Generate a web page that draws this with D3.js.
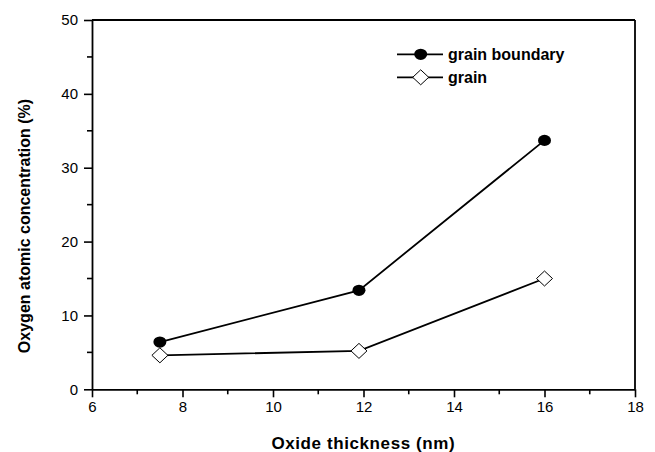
<!DOCTYPE html>
<html>
<head>
<meta charset="utf-8">
<script src="https://cdn.jsdelivr.net/npm/d3@7"></script>
<style>
html,body{margin:0;padding:0;background:#fff;}
svg{display:block;font-family:"Liberation Sans",Arial,sans-serif;}
</style>
</head>
<body>
<svg id="chart" width="655" height="452"></svg>
<script>
const thickness = [7.5, 11.9, 16];
const grainBoundary = [6.4, 13.4, 33.7];
const grain = [4.6, 5.2, 15.0];
const xTicks = [6, 8, 10, 12, 14, 16, 18];
const yTicks = [0, 10, 20, 30, 40, 50];
const seriesNames = ["grain boundary", "grain"];
const xTitle = "Oxide thickness (nm)";
const yTitle = "Oxygen atomic concentration (%)";

const svg = d3.select("#chart");
const mLeft = 92, mRight = 635, mTop = 20, mBottom = 389.3;
const x = d3.scaleLinear().domain([6, 18]).range([mLeft, mRight]);
const y = d3.scaleLinear().domain([0, 50]).range([mBottom, mTop]);

// minor ticks
const xMinor = d3.range(7, 18, 2);
const yMinor = d3.range(5, 50, 10);
svg.append("g").selectAll("line").data(xMinor).join("line")
  .attr("x1", d => x(d)).attr("x2", d => x(d))
  .attr("y1", mBottom).attr("y2", mBottom + 5)
  .attr("stroke", "#000").attr("stroke-width", 1.6);
svg.append("g").selectAll("line").data(yMinor).join("line")
  .attr("y1", d => y(d)).attr("y2", d => y(d))
  .attr("x1", mLeft).attr("x2", mLeft - 5)
  .attr("stroke", "#000").attr("stroke-width", 1.6);

// axes
const xAxis = svg.append("g").attr("transform", `translate(0,${mBottom})`)
  .call(d3.axisBottom(x).tickValues(xTicks).tickSize(8).tickPadding(4).tickSizeOuter(0));
const yAxis = svg.append("g").attr("transform", `translate(${mLeft},0)`)
  .call(d3.axisLeft(y).tickValues(yTicks).tickSize(8).tickPadding(6).tickSizeOuter(0));
[xAxis, yAxis].forEach(g => {
  g.select(".domain").attr("stroke", "#000").attr("stroke-width", 1.8);
  g.selectAll(".tick line").attr("stroke", "#000").attr("stroke-width", 1.6);
  g.selectAll(".tick text").attr("fill", "#000").style("font-size", "15px")
    .style("font-family", "'Liberation Sans', Arial, sans-serif");
});

// frame top & right
svg.append("line").attr("x1", mLeft).attr("x2", mRight).attr("y1", mTop).attr("y2", mTop)
  .attr("stroke", "#000").attr("stroke-width", 1.8);
svg.append("line").attr("x1", mRight).attr("x2", mRight).attr("y1", mTop).attr("y2", mBottom)
  .attr("stroke", "#000").attr("stroke-width", 1.8);

// lines
const line = d3.line().x(d => x(d[0])).y(d => y(d[1]));
const gbData = thickness.map((t, i) => [t, grainBoundary[i]]);
const grData = thickness.map((t, i) => [t, grain[i]]);
svg.append("path").datum(gbData).attr("d", line).attr("fill", "none")
  .attr("stroke", "#000").attr("stroke-width", 1.8);
svg.append("path").datum(grData).attr("d", line).attr("fill", "none")
  .attr("stroke", "#000").attr("stroke-width", 1.8);

function diamond(cx, cy) {
  return `M${cx},${cy - 7.5}L${cx + 8},${cy}L${cx},${cy + 7.5}L${cx - 8},${cy}Z`;
}

svg.append("g").selectAll("ellipse").data(gbData).join("ellipse")
  .attr("cx", d => x(d[0])).attr("cy", d => y(d[1]))
  .attr("rx", 6.5).attr("ry", 5.6).attr("fill", "#000");
svg.append("g").selectAll("path").data(grData).join("path")
  .attr("d", d => diamond(x(d[0]), y(d[1])))
  .attr("fill", "#fff").attr("stroke", "#000").attr("stroke-width", 1);

// legend
const legY = [54.3, 77.3];
legY.forEach((ly, i) => {
  svg.append("line").attr("x1", 397).attr("x2", 443).attr("y1", ly).attr("y2", ly)
    .attr("stroke", "#000").attr("stroke-width", 1.8);
  if (i === 0) {
    svg.append("ellipse").attr("cx", 420.7).attr("cy", ly).attr("rx", 6.5).attr("ry", 5.6).attr("fill", "#000");
  } else {
    svg.append("path").attr("d", diamond(420.7, ly)).attr("fill", "#fff").attr("stroke", "#000").attr("stroke-width", 1);
  }
  svg.append("text").attr("x", 448).attr("y", ly + 5.5)
    .style("font-size", "16px").style("font-weight", "bold").text(seriesNames[i]);
});

// titles
svg.append("text").attr("x", (271.7 + 455) / 2).attr("y", 449)
  .attr("text-anchor", "middle").style("font-size", "17px").style("font-weight", "bold")
  .style("letter-spacing", "0.6px").text(xTitle);
svg.append("text").attr("transform", `translate(30,226) rotate(-90)`)
  .attr("text-anchor", "middle").style("font-size", "16px").style("font-weight", "bold")
  .text(yTitle);
</script>
</body>
</html>
